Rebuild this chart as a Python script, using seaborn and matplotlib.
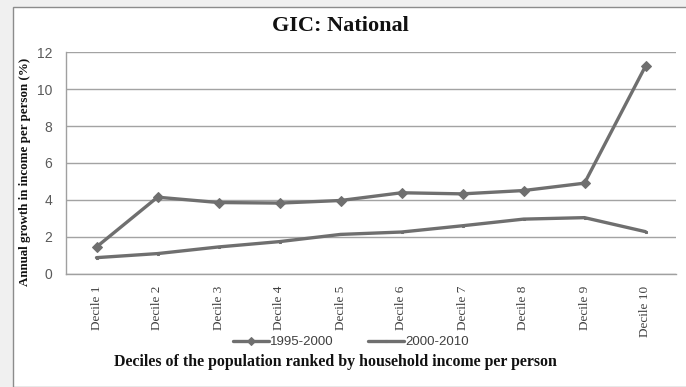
import matplotlib
matplotlib.use("Agg")
import matplotlib.pyplot as plt
import seaborn as sns
import pandas as pd
import numpy as np
from matplotlib.patches import Rectangle
from matplotlib.ticker import FixedLocator

# Growth incidence by income decile (annual % growth in income per person)
deciles = ["Decile 1", "Decile 2", "Decile 3", "Decile 4", "Decile 5",
           "Decile 6", "Decile 7", "Decile 8", "Decile 9", "Decile 10"]
growth_1995_2000 = [1.44, 4.14, 3.85, 3.82, 3.96, 4.38, 4.32, 4.50, 4.90, 11.25]
growth_2000_2010 = [0.86, 1.08, 1.44, 1.73, 2.12, 2.25, 2.59, 2.95, 3.03, 2.27]
periods = ["1995-2000", "2000-2010"]
y_ticks = [0, 2, 4, 6, 8, 10, 12]

df = pd.DataFrame({
    "decile": deciles * 2,
    "growth": growth_1995_2000 + growth_2000_2010,
    "period": [periods[0]] * len(deciles) + [periods[1]] * len(deciles),
})

sns.set_theme(style="white")
plt.rcParams["font.family"] = ["Liberation Serif", "DejaVu Serif"]

W, H = 686, 387
fig = plt.figure(figsize=(W / 100, H / 100), dpi=100, facecolor="#f0f0f0")

# white chart frame behind everything
fig.patches.append(Rectangle((13 / W, 0), 1.0, 1 - 7 / H, transform=fig.transFigure,
                             facecolor="white", edgecolor="#8c8c8c", linewidth=1.0,
                             zorder=-10))

ax = fig.add_axes([66 / W, 1 - 273.5 / H, 610 / W, (273.5 - 52.3) / H])
ax.set_zorder(1)
ax.set_facecolor("white")

line_color = "#6f6f6f"
styles = {
    periods[0]: dict(marker="D", markersize=5.5),
    periods[1]: dict(marker="s", markersize=2),
}
for p in periods:
    sub = df[df["period"] == p]
    sns.lineplot(data=sub, x="decile", y="growth", ax=ax, color=line_color,
                 linewidth=2.4, sort=False, label=p,
                 markeredgecolor=line_color, markerfacecolor=line_color,
                 **styles[p])

ax.set_xlim(-0.5, len(deciles) - 0.5)
ax.set_ylim(0, 12)
ax.set_yticks(y_ticks)
ax.set_yticklabels([str(t) for t in y_ticks], fontfamily="Liberation Sans",
                   fontsize=10, color="#5a5a5a")
ax.set_xticks(range(len(deciles)))
ax.set_xticklabels(deciles, rotation=90, fontsize=9.5, color="#404040",
                   fontfamily="Liberation Serif")
ax.xaxis.set_minor_locator(FixedLocator(np.arange(-0.5, len(deciles), 1.0)))
ax.tick_params(axis="x", which="major", length=0, pad=9)
ax.tick_params(axis="x", which="minor", length=4, color="#a0a0a0", width=1,
               direction="out")
ax.tick_params(axis="y", which="major", length=5, color="#a0a0a0", width=1,
               direction="out", pad=5)

ax.grid(axis="y", color="#a3a3a3", linewidth=1.0)
ax.grid(axis="x", visible=False)
for s in ["top", "right"]:
    ax.spines[s].set_visible(False)
for s in ["left", "bottom"]:
    ax.spines[s].set_color("#a0a0a0")
    ax.spines[s].set_linewidth(1.0)
ax.set_xlabel("")
ax.set_ylabel("")

leg = ax.legend(loc="center", bbox_to_anchor=(351 / W, 1 - 342 / H),
                bbox_transform=fig.transFigure, ncol=2, frameon=False,
                handlelength=2.7, handletextpad=0.1, columnspacing=2.6,
                markerscale=0.75,
                prop={"family": "Liberation Sans", "size": 9.5})
for t in leg.get_texts():
    t.set_color("#404040")

fig.text(340 / W, 1 - 26 / H, "GIC: National", ha="center", va="center",
         fontsize=16, fontweight="bold", color="#111111")
fig.text(25 / W, 1 - 171.5 / H, "Annual growth in income per person (%)",
         rotation=90, ha="center", va="center", fontsize=9.4,
         fontweight="bold", color="#111111")
fig.text(335 / W, 1 - 362 / H,
         "Deciles of the population ranked by household income per person",
         ha="center", va="center", fontsize=11.4, fontweight="bold",
         color="#111111")

fig.savefig("out.png", dpi=100, facecolor=fig.get_facecolor())
